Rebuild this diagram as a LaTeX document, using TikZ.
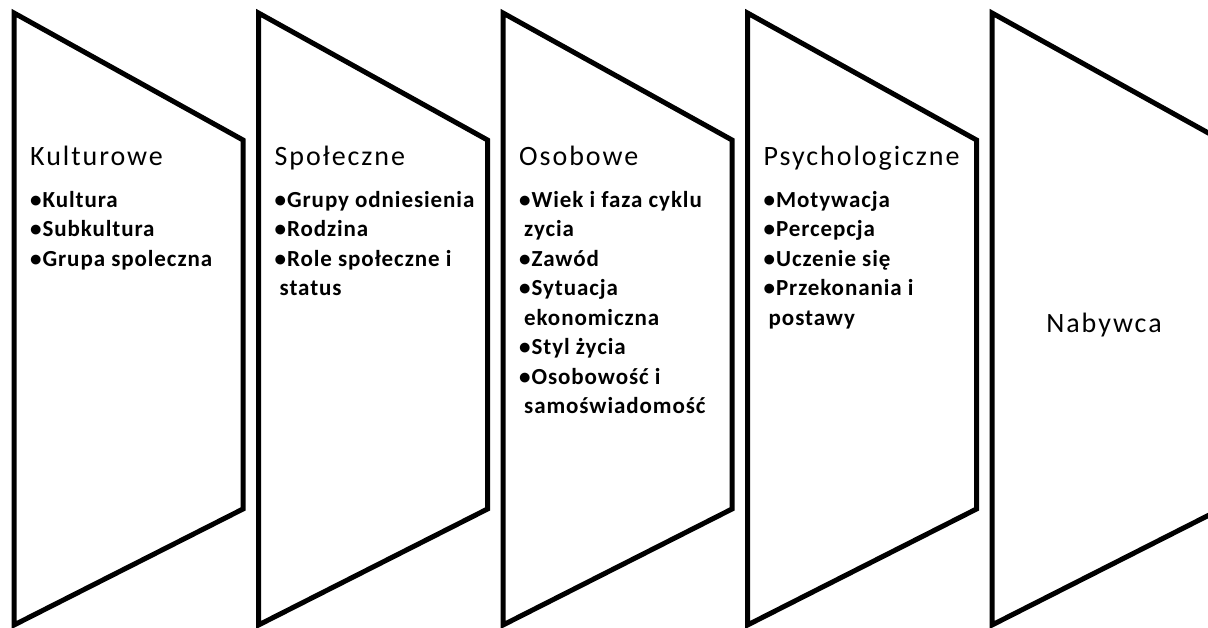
\documentclass[tikz,border=0pt]{standalone}
\usepackage{fontspec}
\setmainfont{Carlito}
\newfontfamily\headfont[LetterSpace=7]{Carlito}
\newfontfamily\itemfont[LetterSpace=4]{Carlito}
\begin{document}
\begin{tikzpicture}[x=1pt,y=-1pt,
  panel/.style={draw=black,line width=5pt,line join=miter,fill=white},
  heading/.style={anchor=base west,inner sep=0pt,font=\headfont\fontsize{28}{32}\selectfont},
  items/.style={anchor=base west,inner sep=0pt,align=left,font=\itemfont\fontsize{23}{29.5}\selectfont\bfseries},
  buyer/.style={inner sep=0pt,font=\headfont\fontsize{28}{32}\selectfont}]
\useasboundingbox (0,0) rectangle (1208,627);
\clip (0,0) rectangle (1208,627);
% five slanted panels, equal size, fixed pitch
\foreach \i/\nm in {0/p1,1/p2,2/p3,3/p4,4/p5}{
  \pgfmathsetmacro{\L}{14+244.5*\i}
  \draw[panel] (\L,13) -- (\L+229,140) -- (\L+229,509) -- (\L,625) -- cycle;
  \coordinate (\nm) at (\L,0);
}
\newcommand{\cont}{\hspace*{5pt}}
% item lists are anchored on the baseline of their last line (first line at 207)
% panel 1
\node[heading] (h1) at ([xshift=16pt,yshift=-165pt]p1) {Kulturowe};
\node[items] (i1) at ([xshift=16pt,yshift=-266pt]p1)
  {•Kultura\\•Subkultura\\•Grupa spoleczna};
% panel 2
\node[heading] (h2) at ([xshift=16pt,yshift=-165pt]p2) {Społeczne};
\node[items] (i2) at ([xshift=16pt,yshift=-295.5pt]p2)
  {•Grupy odniesienia\\•Rodzina\\•Role społeczne i\\\cont status};
% panel 3
\node[heading] (h3) at ([xshift=16pt,yshift=-165pt]p3) {Osobowe};
\node[items] (i3) at ([xshift=16pt,yshift=-413.5pt]p3)
  {•Wiek i faza cyklu\\\cont zycia\\•Zawód\\•Sytuacja\\\cont ekonomiczna\\•Styl życia\\•Osobowość i\\\cont samoświadomość};
% panel 4
\node[heading] (h4) at ([xshift=16pt,yshift=-165pt]p4) {Psychologiczne};
\node[items] (i4) at ([xshift=16pt,yshift=-325pt]p4)
  {•Motywacja\\•Percepcja\\•Uczenie się\\•Przekonania i\\\cont postawy};
% panel 5
\node[buyer] (h5) at ([xshift=112pt,yshift=-325pt]p5) {Nabywca};
\end{tikzpicture}
\end{document}
